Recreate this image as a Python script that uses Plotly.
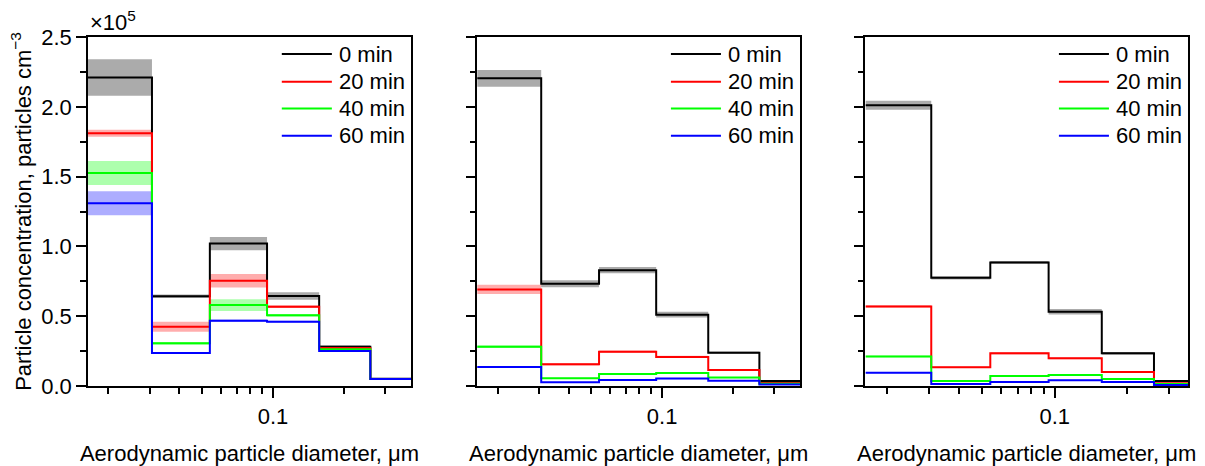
import plotly.graph_objects as go

# ---------------- data (concentrations in units of 1e5 particles cm^-3) ----------------
BIN_EDGES_UM = [0.0163, 0.0306, 0.0539, 0.0943, 0.157, 0.259, 0.39]
TIME_LABELS = ["0 min", "20 min", "40 min", "60 min"]

# Panel 1
P1_0MIN = [2.21, 0.643, 1.02, 0.645, 0.282, 0.052]
P1_0MIN_ERR = [0.13, 0.012, 0.048, 0.027, 0.01, 0.005]
P1_20MIN = [1.81, 0.425, 0.754, 0.568, 0.272, 0.051]
P1_20MIN_ERR = [0.025, 0.036, 0.048, 0.01, 0.008, 0.004]
P1_40MIN = [1.526, 0.306, 0.58, 0.506, 0.263, 0.05]
P1_40MIN_ERR = [0.086, 0.01, 0.042, 0.01, 0.008, 0.004]
P1_60MIN = [1.309, 0.236, 0.468, 0.461, 0.251, 0.05]
P1_60MIN_ERR = [0.086, 0.006, 0.008, 0.006, 0.006, 0.004]

# Panel 2
P2_0MIN = [2.204, 0.733, 0.830, 0.511, 0.239, 0.036]
P2_0MIN_ERR = [0.06, 0.025, 0.022, 0.02, 0.008, 0.005]
P2_20MIN = [0.692, 0.155, 0.246, 0.208, 0.115, 0.022]
P2_20MIN_ERR = [0.033, 0.008, 0.008, 0.008, 0.006, 0.003]
P2_40MIN = [0.282, 0.055, 0.086, 0.093, 0.060, 0.017]
P2_40MIN_ERR = [0.01, 0.004, 0.005, 0.005, 0.004, 0.003]
P2_60MIN = [0.136, 0.026, 0.043, 0.053, 0.038, 0.010]
P2_60MIN_ERR = [0.006, 0.003, 0.003, 0.004, 0.003, 0.002]

# Panel 3
P3_0MIN = [2.011, 0.775, 0.885, 0.532, 0.234, 0.036]
P3_0MIN_ERR = [0.033, 0.012, 0.01, 0.02, 0.01, 0.004]
P3_20MIN = [0.570, 0.134, 0.234, 0.198, 0.100, 0.020]
P3_20MIN_ERR = [0.008, 0.005, 0.008, 0.006, 0.005, 0.003]
P3_40MIN = [0.212, 0.036, 0.072, 0.079, 0.050, 0.015]
P3_40MIN_ERR = [0.006, 0.003, 0.004, 0.004, 0.003, 0.002]
P3_60MIN = [0.095, 0.015, 0.029, 0.041, 0.029, 0.008]
P3_60MIN_ERR = [0.004, 0.002, 0.003, 0.003, 0.003, 0.002]

X_MAJOR_TICKS = [0.1]
X_MAJOR_TEXT = ["0.1"]
X_MINOR_TICKS = [0.02, 0.03, 0.04, 0.05, 0.06, 0.07, 0.08, 0.09, 0.2, 0.3]
Y_MAJOR_TICKS = [0.0, 0.5, 1.0, 1.5, 2.0, 2.5]
Y_MINOR_TICKS = [0.25, 0.75, 1.25, 1.75, 2.25]

# ---------------- style ----------------
LINE_COLORS = ["#000000", "#ff0000", "#00ff00", "#0000ff"]
BAND_COLORS = ["rgba(0,0,0,0.33)", "rgba(255,0,0,0.32)", "rgba(0,255,0,0.32)", "rgba(0,0,255,0.32)"]
FONT = "Liberation Sans, Arial, sans-serif"
FS = 22

W, H = 1205, 466
ML, MR, MT, MB = 88, 17, 37, 80
PW = W - ML - MR

def dom(a, b):
    return [(a - ML) / PW, (b - ML) / PW]

DOMAINS = [dom(88, 411), dom(477.3, 800), dom(865.3, 1188)]
XRANGES = [[-1.786, -0.414], [-1.786, -0.414], [-1.789, -0.445]]

PANELS = [
    [(P1_0MIN, P1_0MIN_ERR), (P1_20MIN, P1_20MIN_ERR), (P1_40MIN, P1_40MIN_ERR), (P1_60MIN, P1_60MIN_ERR)],
    [(P2_0MIN, P2_0MIN_ERR), (P2_20MIN, P2_20MIN_ERR), (P2_40MIN, P2_40MIN_ERR), (P2_60MIN, P2_60MIN_ERR)],
    [(P3_0MIN, P3_0MIN_ERR), (P3_20MIN, P3_20MIN_ERR), (P3_40MIN, P3_40MIN_ERR), (P3_60MIN, P3_60MIN_ERR)],
]

fig = go.Figure()

for p, series in enumerate(PANELS):
    xa = "x" if p == 0 else f"x{p + 1}"
    ya = "y" if p == 0 else f"y{p + 1}"
    # bands first
    for s, (vals, errs) in enumerate(series):
        lo = [v - e for v, e in zip(vals, errs)]
        hi = [v + e for v, e in zip(vals, errs)]
        fig.add_trace(go.Scatter(x=BIN_EDGES_UM, y=lo + [lo[-1]], mode="lines",
                                 line=dict(shape="hv", width=0, color=BAND_COLORS[s]),
                                 xaxis=xa, yaxis=ya, showlegend=False, hoverinfo="skip"))
        fig.add_trace(go.Scatter(x=BIN_EDGES_UM, y=hi + [hi[-1]], mode="lines",
                                 line=dict(shape="hv", width=0, color=BAND_COLORS[s]),
                                 fill="tonexty", fillcolor=BAND_COLORS[s],
                                 xaxis=xa, yaxis=ya, showlegend=False, hoverinfo="skip"))
    # step lines
    for s, (vals, errs) in enumerate(series):
        fig.add_trace(go.Scatter(x=BIN_EDGES_UM, y=vals + [vals[-1]], mode="lines",
                                 name=TIME_LABELS[s],
                                 line=dict(shape="hv", width=2, color=LINE_COLORS[s]),
                                 xaxis=xa, yaxis=ya, showlegend=False))

layout = dict(
    width=W, height=H,
    margin=dict(l=ML, r=MR, t=MT, b=MB, autoexpand=False),
    paper_bgcolor="white", plot_bgcolor="white",
    font=dict(family=FONT, size=FS, color="black"),
    showlegend=False,
)

for p in range(3):
    xk = "xaxis" if p == 0 else f"xaxis{p + 1}"
    yk = "yaxis" if p == 0 else f"yaxis{p + 1}"
    ya = "y" if p == 0 else f"y{p + 1}"
    xa = "x" if p == 0 else f"x{p + 1}"
    layout[xk] = dict(
        type="log", domain=DOMAINS[p], range=XRANGES[p], anchor=ya,
        showline=True, linecolor="black", linewidth=1.5, mirror=True,
        showgrid=False, zeroline=False, automargin=False,
        tickmode="array", tickvals=X_MAJOR_TICKS, ticktext=X_MAJOR_TEXT,
        ticks="outside", ticklen=10, tickwidth=1.5, tickcolor="black",
        minor=dict(tickmode="array", tickvals=X_MINOR_TICKS, ticks="outside",
                   ticklen=6, tickwidth=1.5, tickcolor="black", showgrid=False),
        tickfont=dict(size=FS),
        title=dict(text="Aerodynamic particle diameter, μm", font=dict(size=FS), standoff=17),
    )
    layout[yk] = dict(
        domain=[0, 1], range=[0, 2.5], anchor=xa,
        showline=True, linecolor="black", linewidth=1.5, mirror=True,
        showgrid=False, zeroline=False, automargin=False,
        tickmode="array", tickvals=Y_MAJOR_TICKS,
        ticktext=[f"{v:.1f}" for v in Y_MAJOR_TICKS],
        ticks="outside", ticklen=10, tickwidth=1.5, tickcolor="black",
        minor=dict(tickmode="array", tickvals=Y_MINOR_TICKS, ticks="outside",
                   ticklen=6, tickwidth=1.5, tickcolor="black", showgrid=False),
        showticklabels=(p == 0),
        tickfont=dict(size=FS),
    )
    if p == 0:
        layout[yk]["title"] = dict(text="Particle concentration, particles cm<sup>−3</sup>",
                                   font=dict(size=FS), standoff=4)

fig.update_layout(**layout)

# custom legends (one per panel)
ROW_Y = [0.951, 0.872, 0.795, 0.717]
for p in range(3):
    xr = "x domain" if p == 0 else f"x{p + 1} domain"
    yr = "y domain" if p == 0 else f"y{p + 1} domain"
    for s, lab in enumerate(TIME_LABELS):
        fig.add_shape(type="line", xref=xr, yref=yr, x0=0.60, x1=0.755, y0=ROW_Y[s], y1=ROW_Y[s],
                      line=dict(color=LINE_COLORS[s], width=2))
        fig.add_annotation(xref=xr, yref=yr, x=0.772, y=ROW_Y[s], text=lab, showarrow=False,
                           xanchor="left", yanchor="middle", font=dict(size=FS, family=FONT))

# x10^5 multiplier
fig.add_annotation(xref="paper", yref="paper", x=0.0, y=1.0, yshift=0, text="×10<sup>5</sup>",
                   showarrow=False, xanchor="left", yanchor="bottom", font=dict(size=22, family=FONT))

fig.write_html("out.html")
